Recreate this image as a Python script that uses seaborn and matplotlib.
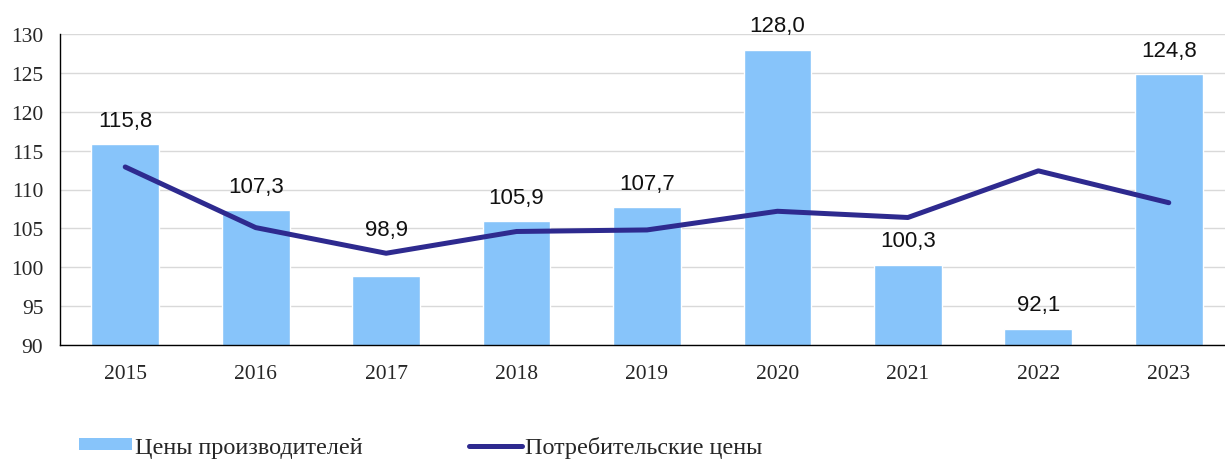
import matplotlib
matplotlib.use("Agg")
import matplotlib.pyplot as plt
import pandas as pd
import seaborn as sns
from matplotlib.patches import Patch
from matplotlib.lines import Line2D

# chart data
years = ["2015", "2016", "2017", "2018", "2019", "2020", "2021", "2022", "2023"]
producer_prices = [115.8, 107.3, 98.9, 105.9, 107.7, 128.0, 100.3, 92.1, 124.8]
consumer_prices = [112.9, 105.1, 101.8, 104.6, 104.8, 107.2, 106.4, 112.4, 108.3]
# labels that sit above the line instead of right above the bar
labels_over_line = ["2017"]

bar_label = "Цены производителей"
line_label = "Потребительские цены"

BAR_COLOR = "#87C4FA"
LINE_COLOR = "#2E2A8F"

df = pd.DataFrame({"year": years, "producer": producer_prices, "consumer": consumer_prices})

sns.set_style("white")
plt.rcParams["font.family"] = ["Liberation Serif", "DejaVu Serif"]

fig = plt.figure(figsize=(12.25, 4.6), dpi=100)
ax = fig.add_axes([60 / 1225, 1 - 346 / 460, 1174 / 1225, 311 / 460])

sns.barplot(data=df, x="year", y="producer", color=BAR_COLOR, width=0.52,
            saturation=1, ax=ax, zorder=2)
sns.lineplot(data=df, x="year", y="consumer", color=LINE_COLOR, linewidth=3.6,
             ax=ax, zorder=3, sort=False)

# value labels above bars
for i, (yr, v, c) in enumerate(zip(years, producer_prices, consumer_prices)):
    base = max(v, c) if yr in labels_over_line else v
    ax.text(i, base + 3.1, f"{v:.1f}".replace(".", ","), ha="center", va="center",
            fontsize=16, family=["Liberation Sans", "DejaVu Sans"], color="#111111")

ax.set_ylim(90, 130)
ax.set_xlim(-0.5, 8.5)
ax.set_yticks(range(90, 131, 5))
ax.yaxis.grid(True, color="#D9D9D9", linewidth=1.0, zorder=0)
ax.set_axisbelow(True)
ax.set_xlabel("")
ax.set_ylabel("")
ax.tick_params(axis="y", labelsize=15.5, length=0, pad=12)
ax.tick_params(axis="x", labelsize=15.5, length=0, pad=14)
for side in ["top", "right"]:
    ax.spines[side].set_visible(False)
for side in ["left", "bottom"]:
    ax.spines[side].set_color("black")
    ax.spines[side].set_linewidth(1.0)

handles = [Patch(facecolor=BAR_COLOR, edgecolor="none"),
           Line2D([0], [0], color=LINE_COLOR, linewidth=3.6)]
fig.legend(handles, [bar_label, line_label], loc="center left",
           bbox_to_anchor=(79 / 1225, 1 - 448 / 460), ncol=2, frameon=False,
           fontsize=17.4, handlelength=2.2, handleheight=0.37, handletextpad=0.12,
           columnspacing=4.4, borderpad=0, borderaxespad=0)

fig.savefig("out.png", dpi=100)
